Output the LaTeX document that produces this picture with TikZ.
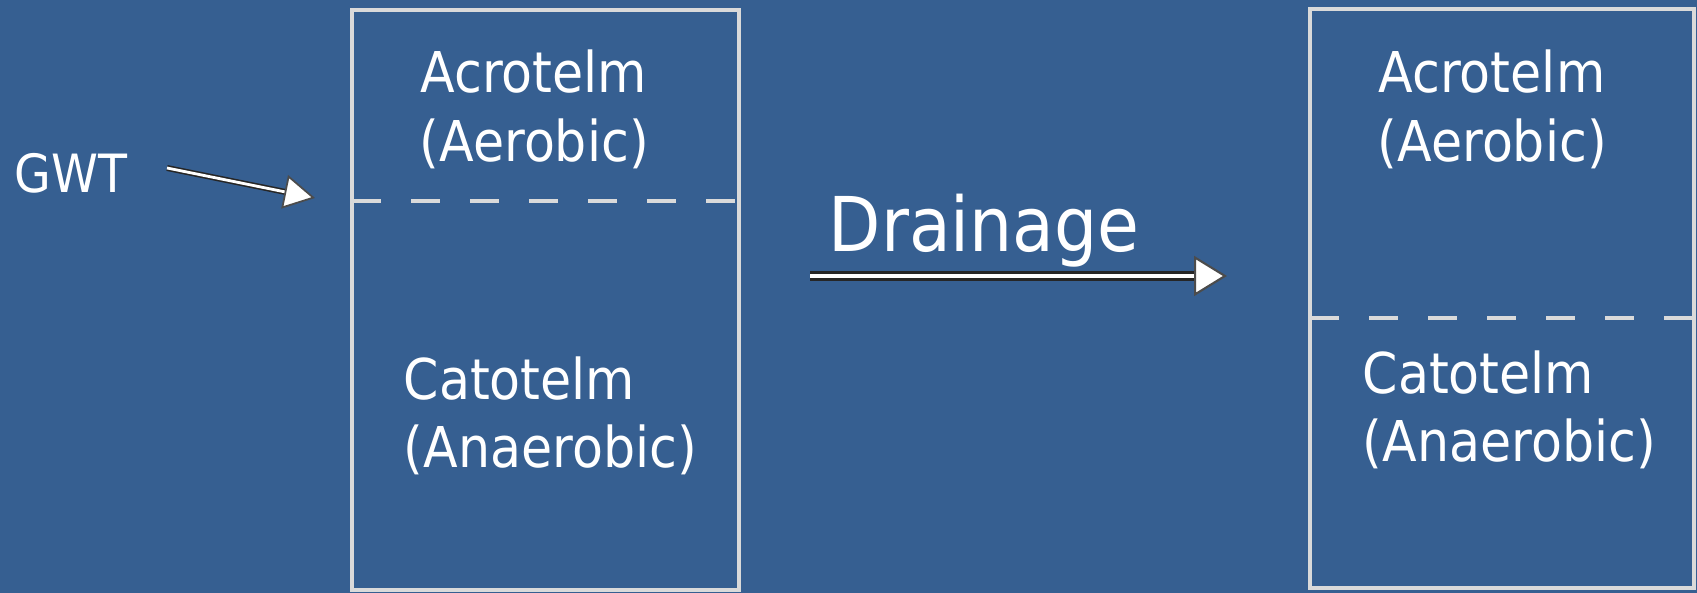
\documentclass[tikz,border=0pt]{standalone}
\usepackage{fontspec}
\setmainfont{DejaVu Sans}[FakeStretch=0.9]
\usetikzlibrary{arrows.meta}
\definecolor{peatblue}{RGB}{54,95,145}
\definecolor{edgegray}{RGB}{218,218,218}
\tikzset{
  layer/.style={font=\fontsize{16}{19}\selectfont, text=white, anchor=base west, inner sep=0pt},
  boxline/.style={draw=edgegray, line width=1pt},
  watertable/.style={draw=edgegray, line width=1pt, dash pattern=on 0.29cm off 0.30cm},
  flowarrow/.style={draw=black!85, line width=0.45pt, double=white, double distance=0.8pt,
    -{Triangle[length=0.31cm, width=0.34cm, fill=white, color=black!70, line width=0.5pt]}}
}
\begin{document}
\begin{tikzpicture}
    % Hintergrund
    \fill[peatblue] (0,0) rectangle (16.97,5.93);
    \useasboundingbox (0,0) rectangle (16.97,5.93);

    % Moor vor der Entwaesserung
    \draw[boxline] (3.52,5.83) rectangle (7.39,0.03);
    \coordinate (gwtA) at (3.52,3.92);
    \coordinate (gwtAend) at (7.39,3.92);
    \draw[watertable] (gwtA) -- (gwtAend);
    \node[layer] (acroA) at (4.20,5.00) {Acrotelm};
    \node[layer] (aeroA) at (4.19,4.31) {(Aerobic)};
    \node[layer] (catoA) at (4.03,1.93) {Catotelm};
    \node[layer] (anaeA) at (4.03,1.25) {(Anaerobic)};

    % Grundwasserstand
    \node[layer, font=\fontsize{15}{18}\selectfont] (gwt) at (0.14,4.00) {GWT};
    \coordinate (gwtfrom) at (1.67,4.25);
    \coordinate (gwtto) at (3.15,3.95);
    \draw[flowarrow] (gwtfrom) -- (gwtto);

    % Entwaesserung
    \node[layer, font=\fontsize{21.5}{25}\selectfont] (drain) at (8.28,3.41) {Drainage};
    \coordinate (drfrom) at (8.10,3.17);
    \coordinate (drto) at (12.27,3.17);
    \draw[flowarrow, double distance=1.1pt, line width=0.8pt,
      -{Triangle[length=0.33cm, width=0.40cm, fill=white, color=black!70, line width=0.6pt]}] (drfrom) -- (drto);

    % Moor nach der Entwaesserung
    \draw[boxline] (13.10,5.84) rectangle (16.94,0.05);
    \coordinate (gwtB) at (13.10,2.75);
    \coordinate (gwtBend) at (16.94,2.75);
    \draw[watertable] (gwtB) -- (gwtBend);
    \node[layer] (acroB) at (13.78,5.00) {Acrotelm};
    \node[layer] (aeroB) at (13.77,4.31) {(Aerobic)};
    \node[layer] (catoB) at (13.62,1.99) {Catotelm};
    \node[layer] (anaeB) at (13.62,1.31) {(Anaerobic)};
\end{tikzpicture}
\end{document}
